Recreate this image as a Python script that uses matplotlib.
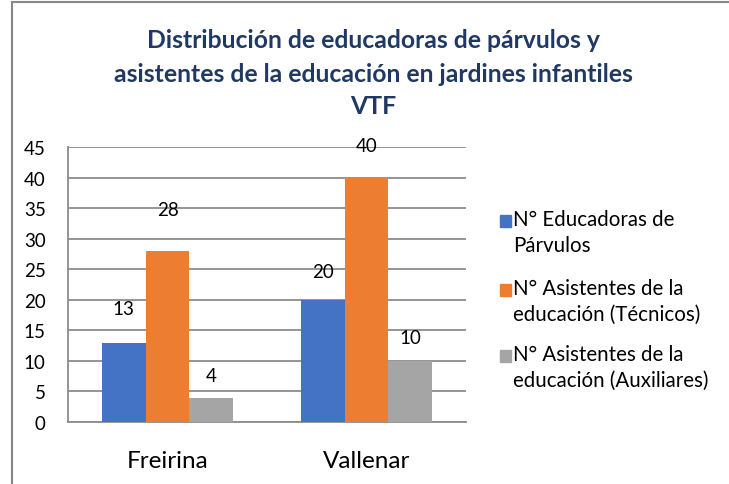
import matplotlib.pyplot as plt
import numpy as np
from matplotlib.patches import Rectangle
from matplotlib.lines import Line2D

plt.rcParams['font.family'] = ['Lato', 'DejaVu Sans']

# datos
categorias = ['Freirina', 'Vallenar']
educadoras = [13, 20]
tecnicos = [28, 40]
auxiliares = [4, 10]
series = ['N° Educadoras de\nPárvulos',
          'N° Asistentes de la\neducación (Técnicos)',
          'N° Asistentes de la\neducación (Auxiliares)']
colores = ['#4472C4', '#ED7D31', '#A5A5A5']
# desplazamiento de las etiquetas (px sobre la barra), como en el original
desfase = [[34, 28], [41, 32], [22, 23]]

fig = plt.figure(figsize=(7.29, 4.85), dpi=100)
ax = fig.add_axes([68/729, 1-423/485, 398/729, 275/485])

x = np.arange(len(categorias))
w = 0.22
valores = [educadoras, tecnicos, auxiliares]
for i, vals in enumerate(valores):
    pos = x + (i - 1) * w
    ax.bar(pos, vals, w, color=colores[i], zorder=3)
    for j, v in enumerate(vals):
        ax.annotate(str(v), (pos[j], v), xytext=(0, desfase[i][j] * 0.72),
                    textcoords='offset points', ha='center', va='center',
                    fontsize=13.5, color='black')

ax.set_xlim(-0.5, 1.5)
ax.set_ylim(0, 45)
ax.set_yticks(range(0, 46, 5))
ax.yaxis.grid(True, color='#8C8C8C', linewidth=1.3, zorder=0)
ax.set_xticks(x)
ax.set_xticklabels(categorias, fontsize=17.5)
ax.tick_params(axis='x', length=0, pad=20)
ax.tick_params(axis='y', length=0, pad=16, labelsize=13.5)
for s in ['top', 'right']:
    ax.spines[s].set_visible(False)
ax.spines['left'].set_color('#8C8C8C')
ax.spines['left'].set_linewidth(1.3)
ax.spines['bottom'].set_color('#8C8C8C')
ax.spines['bottom'].set_linewidth(1.3)

# título
titulo = ['Distribución de educadoras de párvulos y',
          'asistentes de la educación en jardines infantiles',
          'VTF']
for k, (linea, yy) in enumerate(zip(titulo, [40, 75, 107])):
    fig.text(373/729, 1 - yy/485, linea, ha='center', va='center',
             fontsize=17.8, fontweight='bold', color='#1F3864')

# leyenda
for k, (txt, yy) in enumerate(zip(series, [222, 291, 357])):
    fig.patches.append(Rectangle((500/729, 1 - (yy + 6)/485), 11/729, 12/485,
                                 transform=fig.transFigure, color=colores[k]))
    fig.text(513/729, 1 - (yy - 12)/485, txt, ha='left', va='top',
             fontsize=14.8, linespacing=1.35)

# marco
fig.add_artist(Line2D([12/729, 12/729], [0, 1 - 3/485], color='#888888', lw=1.5))
fig.add_artist(Line2D([12/729, 1], [1 - 3/485, 1 - 3/485], color='#888888', lw=1.5))

fig.savefig('out.png', dpi=100)
